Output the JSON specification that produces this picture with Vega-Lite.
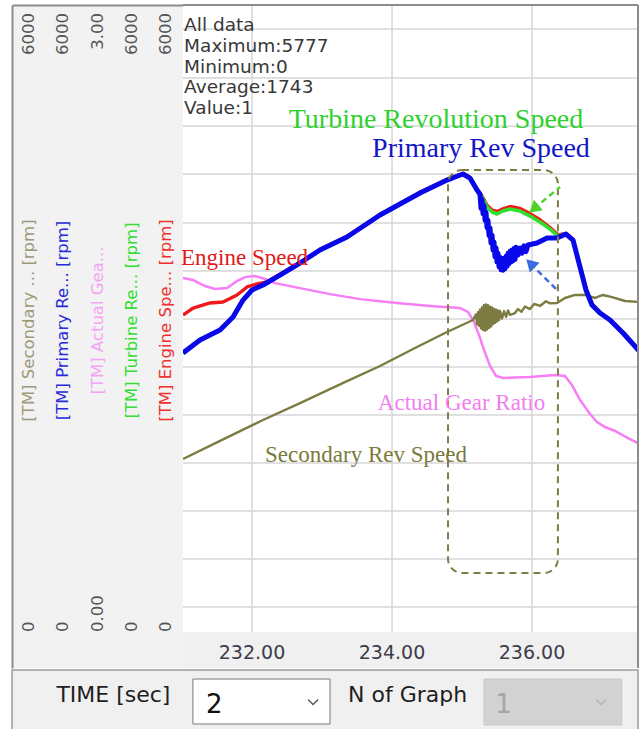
{
  "$schema": "https://vega.github.io/schema/vega-lite/v6.json",
  "background": "#ffffff",
  "padding": {"left": 11, "top": 4, "right": 0, "bottom": 0},
  "spacing": 0,
  "config": {"view": {"stroke": null}, "concat": {"spacing": 0}},
  "datasets": {
    "speeds": [
      {"s": "Secondary", "t": 231.014, "rpm": 1666}, {"s": "Secondary", "t": 231.543, "rpm": 1840}, {"s": "Secondary", "t": 232.157, "rpm": 2042},
      {"s": "Secondary", "t": 232.686, "rpm": 2205}, {"s": "Secondary", "t": 233.357, "rpm": 2417}, {"s": "Secondary", "t": 233.829, "rpm": 2562},
      {"s": "Secondary", "t": 234.3, "rpm": 2726}, {"s": "Secondary", "t": 234.757, "rpm": 2880}, {"s": "Secondary", "t": 235.157, "rpm": 3005},
      {"s": "Secondary", "t": 235.2, "rpm": 3059}, {"s": "Secondary", "t": 235.214, "rpm": 2964}, {"s": "Secondary", "t": 235.229, "rpm": 3081},
      {"s": "Secondary", "t": 235.243, "rpm": 2948}, {"s": "Secondary", "t": 235.257, "rpm": 3104}, {"s": "Secondary", "t": 235.271, "rpm": 2923},
      {"s": "Secondary", "t": 235.286, "rpm": 3127}, {"s": "Secondary", "t": 235.3, "rpm": 2908}, {"s": "Secondary", "t": 235.314, "rpm": 3150},
      {"s": "Secondary", "t": 235.329, "rpm": 2902}, {"s": "Secondary", "t": 235.343, "rpm": 3154}, {"s": "Secondary", "t": 235.357, "rpm": 2914},
      {"s": "Secondary", "t": 235.371, "rpm": 3147}, {"s": "Secondary", "t": 235.386, "rpm": 2928}, {"s": "Secondary", "t": 235.4, "rpm": 3132},
      {"s": "Secondary", "t": 235.414, "rpm": 2941}, {"s": "Secondary", "t": 235.429, "rpm": 3126}, {"s": "Secondary", "t": 235.443, "rpm": 2964},
      {"s": "Secondary", "t": 235.457, "rpm": 3111}, {"s": "Secondary", "t": 235.471, "rpm": 2978}, {"s": "Secondary", "t": 235.486, "rpm": 3104},
      {"s": "Secondary", "t": 235.5, "rpm": 2990}, {"s": "Secondary", "t": 235.514, "rpm": 3098}, {"s": "Secondary", "t": 235.529, "rpm": 3004},
      {"s": "Secondary", "t": 235.543, "rpm": 3092}, {"s": "Secondary", "t": 235.571, "rpm": 3019}, {"s": "Secondary", "t": 235.6, "rpm": 3091},
      {"s": "Secondary", "t": 235.629, "rpm": 3036}, {"s": "Secondary", "t": 235.657, "rpm": 3097}, {"s": "Secondary", "t": 235.686, "rpm": 3053},
      {"s": "Secondary", "t": 235.757, "rpm": 3072}, {"s": "Secondary", "t": 235.8, "rpm": 3110}, {"s": "Secondary", "t": 235.85, "rpm": 3085},
      {"s": "Secondary", "t": 235.9, "rpm": 3135}, {"s": "Secondary", "t": 235.971, "rpm": 3110}, {"s": "Secondary", "t": 236.03, "rpm": 3160},
      {"s": "Secondary", "t": 236.114, "rpm": 3140}, {"s": "Secondary", "t": 236.2, "rpm": 3185}, {"s": "Secondary", "t": 236.257, "rpm": 3165},
      {"s": "Secondary", "t": 236.357, "rpm": 3169}, {"s": "Secondary", "t": 236.471, "rpm": 3217},
      {"s": "Secondary", "t": 236.614, "rpm": 3246}, {"s": "Secondary", "t": 236.757, "rpm": 3246}, {"s": "Secondary", "t": 236.9, "rpm": 3217},
      {"s": "Secondary", "t": 237.014, "rpm": 3246}, {"s": "Secondary", "t": 237.143, "rpm": 3226}, {"s": "Secondary", "t": 237.329, "rpm": 3188},
      {"s": "Secondary", "t": 237.543, "rpm": 3178},

      {"s": "Engine", "t": 231.014, "rpm": 3053}, {"s": "Engine", "t": 231.157, "rpm": 3120}, {"s": "Engine", "t": 231.4, "rpm": 3169},
      {"s": "Engine", "t": 231.586, "rpm": 3178}, {"s": "Engine", "t": 231.786, "rpm": 3246}, {"s": "Engine", "t": 231.929, "rpm": 3323},
      {"s": "Engine", "t": 232.071, "rpm": 3352}, {"s": "Engine", "t": 232.214, "rpm": 3371}, {"s": "Engine", "t": 232.4, "rpm": 3445},
      {"s": "Engine", "t": 232.686, "rpm": 3560}, {"s": "Engine", "t": 232.971, "rpm": 3685}, {"s": "Engine", "t": 233.357, "rpm": 3810},
      {"s": "Engine", "t": 233.829, "rpm": 4022}, {"s": "Engine", "t": 234.4, "rpm": 4234}, {"s": "Engine", "t": 234.786, "rpm": 4359},
      {"s": "Engine", "t": 234.9, "rpm": 4388}, {"s": "Engine", "t": 235.014, "rpm": 4417}, {"s": "Engine", "t": 235.114, "rpm": 4378},
      {"s": "Engine", "t": 235.214, "rpm": 4263}, {"s": "Engine", "t": 235.286, "rpm": 4199}, {"s": "Engine", "t": 235.357, "rpm": 4110},
      {"s": "Engine", "t": 235.429, "rpm": 4064}, {"s": "Engine", "t": 235.5, "rpm": 4050}, {"s": "Engine", "t": 235.586, "rpm": 4076},
      {"s": "Engine", "t": 235.686, "rpm": 4098}, {"s": "Engine", "t": 235.829, "rpm": 4080}, {"s": "Engine", "t": 235.971, "rpm": 4030},
      {"s": "Engine", "t": 236.114, "rpm": 3970}, {"s": "Engine", "t": 236.257, "rpm": 3895}, {"s": "Engine", "t": 236.371, "rpm": 3825},
      {"s": "Engine", "t": 236.486, "rpm": 3839}, {"s": "Engine", "t": 236.586, "rpm": 3781}, {"s": "Engine", "t": 236.686, "rpm": 3521},
      {"s": "Engine", "t": 236.771, "rpm": 3300}, {"s": "Engine", "t": 236.857, "rpm": 3155}, {"s": "Engine", "t": 236.971, "rpm": 3078},
      {"s": "Engine", "t": 237.114, "rpm": 3011}, {"s": "Engine", "t": 237.3, "rpm": 2886}, {"s": "Engine", "t": 237.429, "rpm": 2789},
      {"s": "Engine", "t": 237.543, "rpm": 2703},

      {"s": "Turbine", "t": 231.014, "rpm": 2687}, {"s": "Turbine", "t": 231.257, "rpm": 2812}, {"s": "Turbine", "t": 231.543, "rpm": 2909},
      {"s": "Turbine", "t": 231.729, "rpm": 3034}, {"s": "Turbine", "t": 231.871, "rpm": 3197}, {"s": "Turbine", "t": 232.0, "rpm": 3294},
      {"s": "Turbine", "t": 232.157, "rpm": 3342}, {"s": "Turbine", "t": 232.4, "rpm": 3438}, {"s": "Turbine", "t": 232.686, "rpm": 3554},
      {"s": "Turbine", "t": 232.971, "rpm": 3679}, {"s": "Turbine", "t": 233.357, "rpm": 3804}, {"s": "Turbine", "t": 233.829, "rpm": 4016},
      {"s": "Turbine", "t": 234.4, "rpm": 4228}, {"s": "Turbine", "t": 234.786, "rpm": 4353}, {"s": "Turbine", "t": 234.9, "rpm": 4382},
      {"s": "Turbine", "t": 235.014, "rpm": 4411}, {"s": "Turbine", "t": 235.114, "rpm": 4372}, {"s": "Turbine", "t": 235.214, "rpm": 4257},
      {"s": "Turbine", "t": 235.286, "rpm": 4189}, {"s": "Turbine", "t": 235.357, "rpm": 4093}, {"s": "Turbine", "t": 235.429, "rpm": 4045},
      {"s": "Turbine", "t": 235.5, "rpm": 4026}, {"s": "Turbine", "t": 235.586, "rpm": 4055}, {"s": "Turbine", "t": 235.686, "rpm": 4074},
      {"s": "Turbine", "t": 235.829, "rpm": 4055}, {"s": "Turbine", "t": 235.971, "rpm": 4006}, {"s": "Turbine", "t": 236.114, "rpm": 3949},
      {"s": "Turbine", "t": 236.257, "rpm": 3881}, {"s": "Turbine", "t": 236.371, "rpm": 3814}, {"s": "Turbine", "t": 236.486, "rpm": 3833},
      {"s": "Turbine", "t": 236.586, "rpm": 3775}, {"s": "Turbine", "t": 236.686, "rpm": 3515}, {"s": "Turbine", "t": 236.771, "rpm": 3294},
      {"s": "Turbine", "t": 236.857, "rpm": 3149}, {"s": "Turbine", "t": 236.971, "rpm": 3072}, {"s": "Turbine", "t": 237.114, "rpm": 3005},
      {"s": "Turbine", "t": 237.3, "rpm": 2880}, {"s": "Turbine", "t": 237.429, "rpm": 2783}, {"s": "Turbine", "t": 237.543, "rpm": 2697},

      {"s": "Primary", "t": 231.014, "rpm": 2687}, {"s": "Primary", "t": 231.257, "rpm": 2812}, {"s": "Primary", "t": 231.543, "rpm": 2909},
      {"s": "Primary", "t": 231.729, "rpm": 3034}, {"s": "Primary", "t": 231.871, "rpm": 3197}, {"s": "Primary", "t": 232.0, "rpm": 3294},
      {"s": "Primary", "t": 232.157, "rpm": 3342}, {"s": "Primary", "t": 232.4, "rpm": 3438}, {"s": "Primary", "t": 232.686, "rpm": 3554},
      {"s": "Primary", "t": 232.971, "rpm": 3679}, {"s": "Primary", "t": 233.357, "rpm": 3804}, {"s": "Primary", "t": 233.829, "rpm": 4016},
      {"s": "Primary", "t": 234.4, "rpm": 4228}, {"s": "Primary", "t": 234.786, "rpm": 4353}, {"s": "Primary", "t": 234.9, "rpm": 4382},
      {"s": "Primary", "t": 235.014, "rpm": 4411}, {"s": "Primary", "t": 235.114, "rpm": 4372}, {"s": "Primary", "t": 235.214, "rpm": 4257},
      {"s": "Primary", "t": 235.257, "rpm": 4216}, {"s": "Primary", "t": 235.271, "rpm": 4080}, {"s": "Primary", "t": 235.286, "rpm": 4165},
      {"s": "Primary", "t": 235.3, "rpm": 4028}, {"s": "Primary", "t": 235.314, "rpm": 4107}, {"s": "Primary", "t": 235.329, "rpm": 3964},
      {"s": "Primary", "t": 235.343, "rpm": 4042}, {"s": "Primary", "t": 235.357, "rpm": 3894}, {"s": "Primary", "t": 235.371, "rpm": 3965},
      {"s": "Primary", "t": 235.386, "rpm": 3817}, {"s": "Primary", "t": 235.4, "rpm": 3891}, {"s": "Primary", "t": 235.414, "rpm": 3746},
      {"s": "Primary", "t": 235.429, "rpm": 3821}, {"s": "Primary", "t": 235.443, "rpm": 3679}, {"s": "Primary", "t": 235.457, "rpm": 3756},
      {"s": "Primary", "t": 235.471, "rpm": 3614}, {"s": "Primary", "t": 235.486, "rpm": 3698}, {"s": "Primary", "t": 235.5, "rpm": 3563},
      {"s": "Primary", "t": 235.514, "rpm": 3647}, {"s": "Primary", "t": 235.529, "rpm": 3518}, {"s": "Primary", "t": 235.543, "rpm": 3609},
      {"s": "Primary", "t": 235.557, "rpm": 3489}, {"s": "Primary", "t": 235.571, "rpm": 3590}, {"s": "Primary", "t": 235.586, "rpm": 3484},
      {"s": "Primary", "t": 235.6, "rpm": 3599}, {"s": "Primary", "t": 235.614, "rpm": 3499}, {"s": "Primary", "t": 235.629, "rpm": 3618},
      {"s": "Primary", "t": 235.643, "rpm": 3523}, {"s": "Primary", "t": 235.657, "rpm": 3647}, {"s": "Primary", "t": 235.671, "rpm": 3547},
      {"s": "Primary", "t": 235.686, "rpm": 3667}, {"s": "Primary", "t": 235.7, "rpm": 3563}, {"s": "Primary", "t": 235.714, "rpm": 3679},
      {"s": "Primary", "t": 235.729, "rpm": 3576}, {"s": "Primary", "t": 235.743, "rpm": 3693}, {"s": "Primary", "t": 235.757, "rpm": 3588},
      {"s": "Primary", "t": 235.771, "rpm": 3705}, {"s": "Primary", "t": 235.8, "rpm": 3630}, {"s": "Primary", "t": 235.829, "rpm": 3699},
      {"s": "Primary", "t": 235.857, "rpm": 3649}, {"s": "Primary", "t": 235.886, "rpm": 3719}, {"s": "Primary", "t": 235.914, "rpm": 3664},
      {"s": "Primary", "t": 235.943, "rpm": 3728},
      {"s": "Primary", "t": 236.071, "rpm": 3746}, {"s": "Primary", "t": 236.214, "rpm": 3795},
      {"s": "Primary", "t": 236.357, "rpm": 3795}, {"s": "Primary", "t": 236.486, "rpm": 3833}, {"s": "Primary", "t": 236.586, "rpm": 3775},
      {"s": "Primary", "t": 236.686, "rpm": 3515}, {"s": "Primary", "t": 236.771, "rpm": 3294}, {"s": "Primary", "t": 236.857, "rpm": 3149},
      {"s": "Primary", "t": 236.971, "rpm": 3072}, {"s": "Primary", "t": 237.114, "rpm": 3005}, {"s": "Primary", "t": 237.3, "rpm": 2880},
      {"s": "Primary", "t": 237.429, "rpm": 2783}, {"s": "Primary", "t": 237.543, "rpm": 2697}
    ],
    "gear": [
      {"t": 231.014, "ratio": 1.705}, {"t": 231.157, "ratio": 1.695}, {"t": 231.329, "ratio": 1.666}, {"t": 231.471, "ratio": 1.652},
      {"t": 231.643, "ratio": 1.656}, {"t": 231.786, "ratio": 1.69}, {"t": 231.9, "ratio": 1.709}, {"t": 232.043, "ratio": 1.714},
      {"t": 232.186, "ratio": 1.7}, {"t": 232.329, "ratio": 1.68}, {"t": 232.686, "ratio": 1.656}, {"t": 233.114, "ratio": 1.627},
      {"t": 233.543, "ratio": 1.603}, {"t": 234.071, "ratio": 1.584}, {"t": 234.543, "ratio": 1.57}, {"t": 234.971, "ratio": 1.56},
      {"t": 235.086, "ratio": 1.541}, {"t": 235.171, "ratio": 1.493}, {"t": 235.243, "ratio": 1.43}, {"t": 235.314, "ratio": 1.358},
      {"t": 235.4, "ratio": 1.281}, {"t": 235.486, "ratio": 1.233}, {"t": 235.586, "ratio": 1.223}, {"t": 235.971, "ratio": 1.228},
      {"t": 236.329, "ratio": 1.237}, {"t": 236.471, "ratio": 1.233}, {"t": 236.571, "ratio": 1.189}, {"t": 236.686, "ratio": 1.117},
      {"t": 236.829, "ratio": 1.05}, {"t": 236.929, "ratio": 1.011}, {"t": 237.043, "ratio": 0.987}, {"t": 237.186, "ratio": 0.968},
      {"t": 237.371, "ratio": 0.934}, {"t": 237.543, "ratio": 0.905}
    ],
    "vgrid": [{"t": 232}, {"t": 234}, {"t": 236}],
    "hgrid": [{"rpm": 241}, {"rpm": 703}, {"rpm": 1165}, {"rpm": 1628}, {"rpm": 2090}, {"rpm": 2552}, {"rpm": 3015},
              {"rpm": 3477}, {"rpm": 3939}, {"rpm": 4411}, {"rpm": 4873}, {"rpm": 5336}, {"rpm": 5808}],
    "notes": [
      {"text": "Turbine Revolution Speed", "t": 234.628, "rpm": 4854},
      {"text": "Primary Rev Speed", "t": 235.271, "rpm": 4575},
      {"text": "Engine Speed", "t": 231.893, "rpm": 3535},
      {"text": "Actual Gear Ratio", "t": 234.993, "rpm": 2138},
      {"text": "Secondary Rev Speed", "t": 233.628, "rpm": 1637}
    ],
    "info": [
      {"line": "All data", "t": 231.03, "rpm": 5846},
      {"line": "Maximum:5777", "t": 231.03, "rpm": 5644},
      {"line": "Minimum:0", "t": 231.03, "rpm": 5442},
      {"line": "Average:1743", "t": 231.03, "rpm": 5249},
      {"line": "Value:1", "t": 231.03, "rpm": 5047}
    ],
    "box": [{"t1": 234.8, "t2": 236.37, "r1": 568, "r2": 4449}],
    "arrows": [
      {"id": "turbine", "t": 236.4, "rpm": 4286}, {"id": "turbine", "t": 236.026, "rpm": 4076},
      {"id": "primary", "t": 236.357, "rpm": 3294}, {"id": "primary", "t": 235.978, "rpm": 3549}
    ],
    "heads": [
      {"id": "turbine", "t": 236.026, "rpm": 4076},
      {"id": "primary", "t": 235.978, "rpm": 3549}
    ],
    "frame": [{"tmin": 231.014, "tmax": 237.514, "rlow": -347, "rzero": 0, "rtop": 6039}],
    "leftlabels": [
      {"col": "Secondary", "kind": "top", "frac": 1, "label": "6000"},
      {"col": "Secondary", "kind": "bottom", "frac": 0, "label": "0"},
      {"col": "Secondary", "kind": "name", "frac": 0.5, "label": "[TM] Secondary ... [rpm]"},
      {"col": "Primary", "kind": "top", "frac": 1, "label": "6000"},
      {"col": "Primary", "kind": "bottom", "frac": 0, "label": "0"},
      {"col": "Primary", "kind": "name", "frac": 0.5, "label": "[TM] Primary Re... [rpm]"},
      {"col": "Actual", "kind": "top", "frac": 1, "label": "3.00"},
      {"col": "Actual", "kind": "bottom", "frac": 0, "label": "0.00"},
      {"col": "Actual", "kind": "name", "frac": 0.5, "label": "[TM] Actual Gea..."},
      {"col": "Turbine", "kind": "top", "frac": 1, "label": "6000"},
      {"col": "Turbine", "kind": "bottom", "frac": 0, "label": "0"},
      {"col": "Turbine", "kind": "name", "frac": 0.5, "label": "[TM] Turbine Re... [rpm]"},
      {"col": "Engine", "kind": "top", "frac": 1, "label": "6000"},
      {"col": "Engine", "kind": "bottom", "frac": 0, "label": "0"},
      {"col": "Engine", "kind": "name", "frac": 0.5, "label": "[TM] Engine Spe... [rpm]"}
    ],
    "controls": [
      {"item": "TIME [sec]", "kind": "label", "x": 16.2, "y": 59},
      {"item": "N of Graph", "kind": "label", "x": 63.2, "y": 59},
      {"item": "2", "kind": "value", "x": 31.0, "y": 42.6},
      {"item": "1", "kind": "disabled", "x": 77.2, "y": 42.6},
      {"item": "combo", "kind": "box", "x": 28.9, "x2": 50.8, "y": 85.2, "y2": 11.5},
      {"item": "combo2", "kind": "dbox", "x": 75.4, "x2": 97.4, "y": 85.2, "y2": 9.8},
      {"item": "chev", "kind": "chev", "x": 48.1, "y": 47.5},
      {"item": "chev2", "kind": "dchev", "x": 94.1, "y": 47.5}
    ]
  },
  "vconcat": [
    {
      "hconcat": [
        {
          "width": 171,
          "height": 663,
          "view": {"fill": "#f2f2f2", "stroke": null},
          "data": {"name": "leftlabels"},
          "encoding": {
            "x": {"field": "col", "type": "nominal",
                  "scale": {"type": "point", "domain": ["Secondary", "Primary", "Actual", "Turbine", "Engine"], "padding": 0.5},
                  "axis": {"orient": "top", "domain": true, "domainColor": "#8c8c8c", "domainWidth": 2, "labels": false, "ticks": false, "grid": false, "title": null}},
            "y": {"field": "frac", "type": "quantitative",
                  "scale": {"domain": [-0.05783, 1.0065], "nice": false, "zero": false},
                  "axis": {"orient": "left", "domain": true, "domainColor": "#8c8c8c", "domainWidth": 2, "labels": false, "ticks": false, "grid": false, "title": null, "minExtent": 0, "maxExtent": 0}}
          },
          "layer": [
            {"transform": [{"filter": "datum.kind == 'top'"}],
             "mark": {"type": "text", "angle": 270, "align": "right", "baseline": "middle", "dx": -4, "font": "DejaVu Sans", "fontSize": 16.5, "color": "#555555"},
             "encoding": {"text": {"field": "label"}}},
            {"transform": [{"filter": "datum.kind == 'bottom'"}],
             "mark": {"type": "text", "angle": 270, "align": "left", "baseline": "middle", "dx": 0, "font": "DejaVu Sans", "fontSize": 16.5, "color": "#555555"},
             "encoding": {"text": {"field": "label"}}},
            {"transform": [{"filter": "datum.kind == 'name'"}],
             "mark": {"type": "text", "angle": 270, "align": "center", "baseline": "middle", "font": "DejaVu Sans", "fontSize": 16.5},
             "encoding": {"text": {"field": "label"},
                          "color": {"field": "col", "type": "nominal", "legend": null,
                                    "scale": {"domain": ["Secondary", "Primary", "Actual", "Turbine", "Engine"],
                                              "range": ["#9d9a78", "#2a2ad8", "#f4a4f4", "#33dd33", "#ee3030"]}}}}
          ]
        },
        {
          "width": 455,
          "height": 663,
          "view": {"stroke": null},
          "resolve": {"scale": {"y": "independent"}},
          "layer": [
            {
              "layer": [
                {"data": {"name": "vgrid"},
                 "mark": {"type": "rule", "color": "#d6d6d6", "strokeWidth": 1.5},
                 "encoding": {"x": {"field": "t", "type": "quantitative", "scale": {"domain": [231.014, 237.514], "nice": false, "zero": false}, "axis": null}}},
                {"data": {"name": "hgrid"},
                 "mark": {"type": "rule", "color": "#d6d6d6", "strokeWidth": 1.5},
                 "encoding": {"y": {"field": "rpm", "type": "quantitative", "scale": {"domain": [-347, 6039], "nice": false, "zero": false}, "axis": null}}}
              ]
            },
            {
              "data": {"name": "gear"},
              "mark": {"type": "line", "color": "#f77ef7", "strokeWidth": 2.5, "clip": true},
              "encoding": {
                "x": {"field": "t", "type": "quantitative", "scale": {"domain": [231.014, 237.514], "nice": false, "zero": false}, "axis": null},
                "y": {"field": "ratio", "type": "quantitative", "scale": {"domain": [-0.1735, 3.0195], "nice": false, "zero": false}, "axis": null}
              }
            },
            {
              "layer": [
                {"data": {"name": "speeds"}, "transform": [{"filter": "datum.s == 'Secondary'"}],
                 "mark": {"type": "line", "color": "#7b7b42", "strokeWidth": 2.4, "strokeJoin": "round", "clip": true},
                 "encoding": {"x": {"field": "t", "type": "quantitative", "scale": {"domain": [231.014, 237.514], "nice": false, "zero": false}, "axis": null},
                              "y": {"field": "rpm", "type": "quantitative", "scale": {"domain": [-347, 6039], "nice": false, "zero": false}, "axis": null}}},
                {"data": {"name": "speeds"}, "transform": [{"filter": "datum.s == 'Engine'"}],
                 "mark": {"type": "line", "color": "#f01818", "strokeWidth": 3.4, "strokeJoin": "round", "clip": true},
                 "encoding": {"x": {"field": "t", "type": "quantitative", "axis": null},
                              "y": {"field": "rpm", "type": "quantitative", "axis": null}}},
                {"data": {"name": "speeds"}, "transform": [{"filter": "datum.s == 'Turbine'"}],
                 "mark": {"type": "line", "color": "#2ee02e", "strokeWidth": 3.6, "strokeJoin": "round", "clip": true},
                 "encoding": {"x": {"field": "t", "type": "quantitative", "axis": null},
                              "y": {"field": "rpm", "type": "quantitative", "axis": null}}},
                {"data": {"name": "speeds"}, "transform": [{"filter": "datum.s == 'Primary'"}],
                 "mark": {"type": "line", "color": "#0808e8", "strokeWidth": 5, "strokeJoin": "round", "clip": true},
                 "encoding": {"x": {"field": "t", "type": "quantitative", "axis": null},
                              "y": {"field": "rpm", "type": "quantitative", "axis": null}}},
                {"data": {"name": "box"},
                 "mark": {"type": "rect", "filled": false, "stroke": "#7d7d45", "strokeWidth": 2, "strokeDash": [7, 5], "cornerRadius": 14},
                 "encoding": {"x": {"field": "t1", "type": "quantitative", "axis": null}, "x2": {"field": "t2"},
                              "y": {"field": "r1", "type": "quantitative", "axis": null}, "y2": {"field": "r2"}}},
                {"data": {"name": "arrows"}, "transform": [{"filter": "datum.id == 'turbine'"}],
                 "mark": {"type": "line", "color": "#4fd42a", "strokeWidth": 2.5, "strokeDash": [6, 4]},
                 "encoding": {"x": {"field": "t", "type": "quantitative", "axis": null},
                              "y": {"field": "rpm", "type": "quantitative", "axis": null}}},
                {"data": {"name": "arrows"}, "transform": [{"filter": "datum.id == 'primary'"}],
                 "mark": {"type": "line", "color": "#3a6ee0", "strokeWidth": 2.5, "strokeDash": [6, 4]},
                 "encoding": {"x": {"field": "t", "type": "quantitative", "axis": null},
                              "y": {"field": "rpm", "type": "quantitative", "axis": null}}},
                {"data": {"name": "heads"}, "transform": [{"filter": "datum.id == 'turbine'"}],
                 "mark": {"type": "point", "shape": "triangle-up", "filled": true, "color": "#4fd42a", "opacity": 1, "size": 190, "angle": 230},
                 "encoding": {"x": {"field": "t", "type": "quantitative", "axis": null},
                              "y": {"field": "rpm", "type": "quantitative", "axis": null}}},
                {"data": {"name": "heads"}, "transform": [{"filter": "datum.id == 'primary'"}],
                 "mark": {"type": "point", "shape": "triangle-up", "filled": true, "color": "#3a6ee0", "opacity": 1, "size": 190, "angle": 315},
                 "encoding": {"x": {"field": "t", "type": "quantitative", "axis": null},
                              "y": {"field": "rpm", "type": "quantitative", "axis": null}}},
                {"data": {"name": "notes"}, "transform": [{"filter": "datum.text == 'Turbine Revolution Speed' || datum.text == 'Primary Rev Speed'"}],
                 "mark": {"type": "text", "font": "Liberation Serif", "fontSize": 28, "align": "center", "baseline": "alphabetic"},
                 "encoding": {"x": {"field": "t", "type": "quantitative", "axis": null},
                              "y": {"field": "rpm", "type": "quantitative", "axis": null},
                              "text": {"field": "text"},
                              "color": {"field": "text", "type": "nominal", "legend": null,
                                        "scale": {"domain": ["Turbine Revolution Speed", "Primary Rev Speed", "Engine Speed", "Actual Gear Ratio", "Secondary Rev Speed"],
                                                  "range": ["#2fd02f", "#1414c8", "#e31818", "#f07ef0", "#7a7a3c"]}}}},
                {"data": {"name": "notes"}, "transform": [{"filter": "datum.text != 'Turbine Revolution Speed' && datum.text != 'Primary Rev Speed'"}],
                 "mark": {"type": "text", "font": "Liberation Serif", "fontSize": 23, "align": "center", "baseline": "alphabetic"},
                 "encoding": {"x": {"field": "t", "type": "quantitative", "axis": null},
                              "y": {"field": "rpm", "type": "quantitative", "axis": null},
                              "text": {"field": "text"},
                              "color": {"field": "text", "type": "nominal", "legend": null}}},
                {"data": {"name": "info"},
                 "mark": {"type": "text", "font": "DejaVu Sans", "fontSize": 18.5, "align": "left", "baseline": "middle", "color": "#383838"},
                 "encoding": {"x": {"field": "t", "type": "quantitative", "axis": null},
                              "y": {"field": "rpm", "type": "quantitative", "axis": null},
                              "text": {"field": "line"}}},
                {"data": {"name": "frame"},
                 "mark": {"type": "rect", "color": "#f0f0f0"},
                 "encoding": {"x": {"field": "tmin", "type": "quantitative", "axis": null}, "x2": {"field": "tmax"},
                              "y": {"field": "rlow", "type": "quantitative", "axis": null}, "y2": {"field": "rzero"}}},
                {"data": {"name": "vgrid"},
                 "mark": {"type": "text", "font": "DejaVu Sans", "fontSize": 19, "align": "center", "baseline": "middle", "color": "#3c3c4a"},
                 "encoding": {"x": {"field": "t", "type": "quantitative", "axis": null},
                              "y": {"datum": -202, "type": "quantitative", "axis": null},
                              "text": {"field": "t", "type": "quantitative", "format": ".2f"}}},
                {"data": {"name": "frame"},
                 "mark": {"type": "rule", "color": "#8c8c8c", "strokeWidth": 2},
                 "encoding": {"y": {"field": "rtop", "type": "quantitative", "axis": null}}},
                {"data": {"name": "frame"},
                 "mark": {"type": "rule", "color": "#8c8c8c", "strokeWidth": 2},
                 "encoding": {"x": {"field": "tmax", "type": "quantitative", "axis": null}}}
              ]
            }
          ]
        }
      ],
      "spacing": 0,
      "bounds": "flush",
      "resolve": {"scale": {"color": "independent"}}
    },
    {
      "width": 626,
      "height": 61,
      "view": {"fill": "#f0f0f0", "stroke": "#9a9a9a", "strokeWidth": 1.5},
      "data": {"name": "controls"},
      "encoding": {
        "x": {"field": "x", "type": "quantitative", "scale": {"domain": [0, 100], "nice": false, "zero": false}, "axis": null},
        "y": {"field": "y", "type": "quantitative", "scale": {"domain": [0, 100], "nice": false, "zero": false}, "axis": null}
      },
      "layer": [
        {"transform": [{"filter": "datum.kind == 'box'"}],
         "mark": {"type": "rect", "fill": "#ffffff", "stroke": "#7a7a7a", "strokeWidth": 1},
         "encoding": {"x2": {"field": "x2"}, "y2": {"field": "y2"}}},
        {"transform": [{"filter": "datum.kind == 'dbox'"}],
         "mark": {"type": "rect", "fill": "#d2d2d2", "stroke": "#c8c8c8", "strokeWidth": 1},
         "encoding": {"x2": {"field": "x2"}, "y2": {"field": "y2"}}},
        {"transform": [{"filter": "datum.kind == 'label'"}],
         "mark": {"type": "text", "font": "DejaVu Sans", "fontSize": 22, "align": "center", "baseline": "middle", "color": "#1e1e1e"},
         "encoding": {"text": {"field": "item"}}},
        {"transform": [{"filter": "datum.kind == 'value'"}],
         "mark": {"type": "text", "font": "DejaVu Sans", "fontSize": 26, "align": "left", "baseline": "middle", "color": "#111111"},
         "encoding": {"text": {"field": "item"}}},
        {"transform": [{"filter": "datum.kind == 'disabled'"}],
         "mark": {"type": "text", "font": "DejaVu Sans", "fontSize": 26, "align": "left", "baseline": "middle", "color": "#a4a4a4"},
         "encoding": {"text": {"field": "item"}}},
        {"transform": [{"filter": "datum.kind == 'chev'"}],
         "mark": {"type": "point", "shape": "M-1,-0.5L0,0.5L1,-0.5", "filled": false, "stroke": "#555555", "strokeWidth": 1.3, "opacity": 1, "size": 100}},
        {"transform": [{"filter": "datum.kind == 'dchev'"}],
         "mark": {"type": "point", "shape": "M-1,-0.5L0,0.5L1,-0.5", "filled": false, "stroke": "#b4b4b4", "strokeWidth": 1.3, "opacity": 1, "size": 100}}
      ]
    }
  ]
}
